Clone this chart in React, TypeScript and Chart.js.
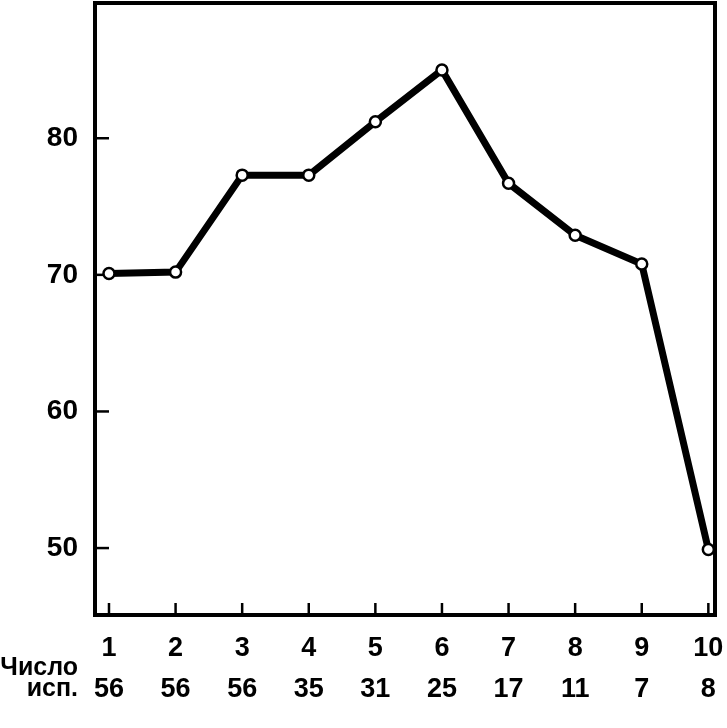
import React, { useEffect, useRef } from 'react';
import { Chart, registerables } from 'chart.js';

Chart.register(...registerables);

const trials = [1, 2, 3, 4, 5, 6, 7, 8, 9, 10];
const values = [70.1, 70.2, 77.3, 77.3, 81.2, 85.0, 76.7, 72.9, 70.8, 49.9];
const subjects = [56, 56, 56, 35, 31, 25, 17, 11, 7, 8];
const yTicks = [50, 60, 70, 80];
const rowLabel = ['Число', 'исп.'];

const FONT = '"Liberation Sans", Arial, sans-serif';
const X_PAD = 13;
const X_LINE_H = 41;

const frameAndTicks = {
  id: 'frameAndTicks',
  beforeDatasetsDraw(chart: any) {
    const { ctx, chartArea, scales } = chart;
    const { left, right, top, bottom } = chartArea;
    const x = scales.x;
    const y = scales.y;
    ctx.save();
    ctx.strokeStyle = '#000';
    ctx.lineWidth = 4;
    ctx.strokeRect(left, top, right - left, bottom - top);
    ctx.lineWidth = 2.5;
    yTicks.forEach((v) => {
      const py = y.getPixelForValue(v);
      ctx.beginPath();
      ctx.moveTo(left, py);
      ctx.lineTo(left + 14, py);
      ctx.stroke();
    });
    trials.forEach((v) => {
      const px = x.getPixelForValue(v);
      ctx.beginPath();
      ctx.moveTo(px, bottom);
      ctx.lineTo(px, bottom - 12);
      ctx.stroke();
    });
    ctx.fillStyle = '#000';
    ctx.font = `bold 25px ${FONT}`;
    ctx.textAlign = 'right';
    ctx.textBaseline = 'middle';
    const row2 = x.top + X_PAD + X_LINE_H * 1.5;
    ctx.fillText(rowLabel[0], left - 17, row2 - 21);
    ctx.fillText(rowLabel[1], left - 17, row2);
    ctx.restore();
  },
};

export default function App() {
  const ref = useRef<HTMLCanvasElement | null>(null);
  useEffect(() => {
    document.body.style.margin = '0';
    const canvas = ref.current;
    if (!canvas) return;
    const chart = new Chart(canvas, {
      type: 'line',
      data: {
        datasets: [
          {
            data: trials.map((t, i) => ({ x: t, y: values[i] })),
            borderColor: '#000',
            borderWidth: 7,
            pointRadius: 5.5,
            pointBorderWidth: 2.5,
            pointBackgroundColor: '#fff',
            pointBorderColor: '#000',
            tension: 0,
          },
        ],
      },
      options: {
        animation: false,
        responsive: false,
        maintainAspectRatio: false,
        layout: { autoPadding: false, padding: { top: 3, right: 12, left: 0, bottom: 0 } },
        plugins: { legend: { display: false }, tooltip: { enabled: false } },
        scales: {
          x: {
            type: 'linear',
            min: 0.79,
            max: 10.1,
            border: { display: false },
            grid: { display: false, drawTicks: false },
            afterBuildTicks: (scale: any) => {
              scale.ticks = trials.map((v) => ({ value: v }));
            },
            afterFit: (scale: any) => {
              scale.height = 113;
              scale.paddingLeft = 0;
              scale.paddingRight = 0;
            },
            ticks: {
              autoSkip: false,
              maxRotation: 0,
              padding: X_PAD,
              color: '#000',
              font: { family: FONT, size: 27, weight: 'bold', lineHeight: X_LINE_H / 27 },
              callback: (v: any) => {
                const i = trials.indexOf(Number(v));
                return i >= 0 ? [String(trials[i]), String(subjects[i])] : '';
              },
            },
          },
          y: {
            type: 'linear',
            min: 45.1,
            max: 89.9,
            border: { display: false },
            grid: { display: false, drawTicks: false },
            afterBuildTicks: (scale: any) => {
              scale.ticks = yTicks.map((v) => ({ value: v }));
            },
            afterFit: (scale: any) => {
              scale.width = 95;
              scale.paddingTop = 0;
              scale.paddingBottom = 0;
            },
            ticks: {
              padding: 17,
              color: '#000',
              font: { family: FONT, size: 28, weight: 'bold' },
              callback: (v: any) => String(v),
            },
          },
        },
      },
      plugins: [frameAndTicks],
    });
    return () => chart.destroy();
  }, []);
  return <canvas ref={ref} width={727} height={728} style={{ display: 'block' }} />;
}
